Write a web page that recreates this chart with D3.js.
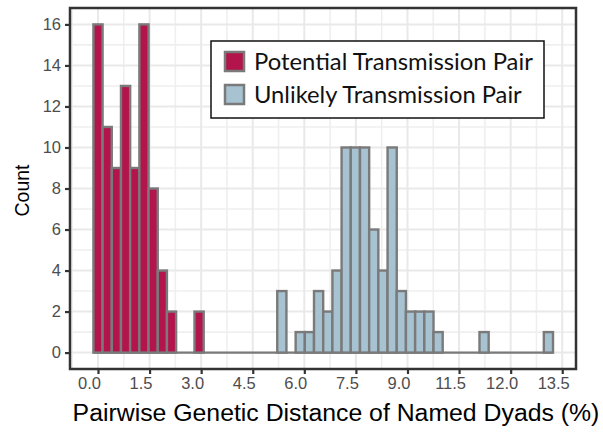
<!DOCTYPE html>
<html>
<head>
<meta charset="utf-8">
<script src="https://cdn.jsdelivr.net/npm/d3@7"></script>
<style>
  html, body { margin: 0; padding: 0; background: #fff; }
  svg { display: block; }
</style>
</head>
<body>
<svg id="chart" width="603" height="433"></svg>
<script>
// ---- data ----
const seriesNames = ["Potential Transmission Pair", "Unlikely Transmission Pair"];
const binWidth = 0.267;
const potentialMids   = [0.000, 0.267, 0.535, 0.802, 1.069, 1.337, 1.604, 1.871, 2.138, 2.940];
const potentialCounts = [16, 11, 9, 13, 9, 16, 8, 4, 2, 2];
const unlikelyMids    = [5.346, 5.881, 6.148, 6.415, 6.683, 6.950, 7.217, 7.484, 7.752, 8.019,
                         8.286, 8.554, 8.821, 9.088, 9.356, 9.623, 9.890, 11.227, 13.098];
const unlikelyCounts  = [3, 1, 1, 3, 2, 4, 10, 10, 10, 6, 4, 10, 3, 2, 2, 2, 1, 1, 1];
const xTickValues = [0, 1.5, 3, 4.5, 6, 7.5, 9, 10.5, 12, 13.5];
const xTickLabels = ["0.0", "1.5", "3.0", "4.5", "6.0", "7.5", "9.0", "11.5", "12.0", "13.5"];
const yTickValues = [0, 2, 4, 6, 8, 10, 12, 14, 16];
const xTitle = "Pairwise Genetic Distance of Named Dyads (%)";
const yTitle = "Count";

const colors = ["#b3144b", "#a7c3d1"];
const outline = "#7a7a7a";

// ---- layout ----
const svg = d3.select("#chart");
const P = { left: 70, right: 576, top: 8, bottom: 369 };

const x = d3.scaleLinear().domain([-0.814, 13.9]).range([P.left, P.right]);
const y = d3.scaleLinear().domain([-0.8, 16.8]).range([P.bottom, P.top]);

// panel background
svg.append("rect").attr("x", P.left).attr("y", P.top)
  .attr("width", P.right - P.left).attr("height", P.bottom - P.top).attr("fill", "#fff");

const grid = svg.append("g");
// minor grid
const xMinor = xTickValues.slice(0, -1).map((v, i) => (v + xTickValues[i + 1]) / 2).concat([-0.75]);
const yMinor = yTickValues.slice(0, -1).map((v, i) => (v + yTickValues[i + 1]) / 2);
grid.selectAll(".xm").data(xMinor).join("line")
  .attr("x1", d => x(d)).attr("x2", d => x(d)).attr("y1", P.top).attr("y2", P.bottom)
  .attr("stroke", "#efefef").attr("stroke-width", 1.6);
grid.selectAll(".ym").data(yMinor).join("line")
  .attr("y1", d => y(d)).attr("y2", d => y(d)).attr("x1", P.left).attr("x2", P.right)
  .attr("stroke", "#efefef").attr("stroke-width", 1.6);
// major grid
grid.selectAll(".xM").data(xTickValues).join("line")
  .attr("x1", d => x(d)).attr("x2", d => x(d)).attr("y1", P.top).attr("y2", P.bottom)
  .attr("stroke", "#e9e9e9").attr("stroke-width", 2);
grid.selectAll(".yM").data(yTickValues).join("line")
  .attr("y1", d => y(d)).attr("y2", d => y(d)).attr("x1", P.left).attr("x2", P.right)
  .attr("stroke", "#e9e9e9").attr("stroke-width", 2);

// zero-count baseline spanning all bins
const allMids = potentialMids.concat(unlikelyMids);
svg.append("line")
  .attr("x1", x(d3.min(allMids) - binWidth / 2)).attr("x2", x(d3.max(allMids) + binWidth / 2))
  .attr("y1", y(0)).attr("y2", y(0))
  .attr("stroke", outline).attr("stroke-width", 2.4);

// bars
const series = [
  { mids: potentialMids, counts: potentialCounts, color: colors[0] },
  { mids: unlikelyMids, counts: unlikelyCounts, color: colors[1] }
];
series.forEach(s => {
  const data = s.mids.map((m, i) => ({ m, c: s.counts[i] }));
  svg.append("g").selectAll("rect").data(data).join("rect")
    .attr("x", d => x(d.m - binWidth / 2))
    .attr("width", d => x(d.m + binWidth / 2) - x(d.m - binWidth / 2))
    .attr("y", d => y(d.c))
    .attr("height", d => y(0) - y(d.c))
    .attr("fill", s.color)
    .attr("stroke", outline).attr("stroke-width", 2.4);
});

// panel border
svg.append("rect").attr("x", P.left).attr("y", P.top)
  .attr("width", P.right - P.left).attr("height", P.bottom - P.top)
  .attr("fill", "none").attr("stroke", "#333").attr("stroke-width", 2.5);

// axes
const fontAxis = "'Liberation Sans', Arial, sans-serif";
const xAxis = d3.axisBottom(x).tickValues(xTickValues)
  .tickFormat((d, i) => xTickLabels[i]).tickSize(5).tickPadding(4);
const gx = svg.append("g").attr("transform", `translate(0,${P.bottom})`).call(xAxis);
gx.select(".domain").remove();
gx.selectAll(".tick line").attr("stroke", "#333").attr("stroke-width", 2.2);
gx.selectAll(".tick text").attr("fill", "#4d4d4d").attr("font-size", 16.5)
  .attr("font-family", fontAxis).attr("dx", -9).attr("dy", "0.78em").attr("y", 7);

const yAxis = d3.axisLeft(y).tickValues(yTickValues).tickSize(5).tickPadding(4);
const gy = svg.append("g").attr("transform", `translate(${P.left},0)`).call(yAxis);
gy.select(".domain").remove();
gy.selectAll(".tick line").attr("stroke", "#333").attr("stroke-width", 2.2);
gy.selectAll(".tick text").attr("fill", "#4d4d4d").attr("font-size", 16.5)
  .attr("font-family", fontAxis).attr("x", -9);

// titles
const xt = svg.append("text").attr("x", 336).attr("y", 421)
  .attr("text-anchor", "middle").attr("font-family", fontAxis).attr("font-size", 20)
  .attr("fill", "#000").text(xTitle);
const xtw = xt.node().getComputedTextLength();
xt.attr("font-size", 20 * 527 / xtw);

svg.append("text").attr("transform", `translate(29,${(P.top + P.bottom) / 2 + 2}) rotate(-90)`)
  .attr("text-anchor", "middle").attr("font-family", fontAxis).attr("font-size", 19.5)
  .attr("fill", "#000").text(yTitle);

// legend
const lg = svg.append("g");
lg.append("rect").attr("x", 211).attr("y", 41).attr("width", 333).attr("height", 77)
  .attr("fill", "#fff").attr("stroke", "#111").attr("stroke-width", 1.5);
const legendFont = "Lato, 'Open Sans', sans-serif";
const targetW = [279, 268];
seriesNames.forEach((name, i) => {
  const yy = 52 + i * 33;
  lg.append("rect").attr("x", 225).attr("y", yy).attr("width", 19).attr("height", 19)
    .attr("fill", colors[i]).attr("stroke", outline).attr("stroke-width", 2.5);
  const t = lg.append("text").attr("x", 254).attr("y", yy + 17.5)
    .attr("font-family", legendFont).attr("font-size", 20).attr("fill", "#111").text(name);
  const w = t.node().getComputedTextLength();
  t.attr("font-size", 20 * targetW[i] / w);
});
</script>
</body>
</html>
